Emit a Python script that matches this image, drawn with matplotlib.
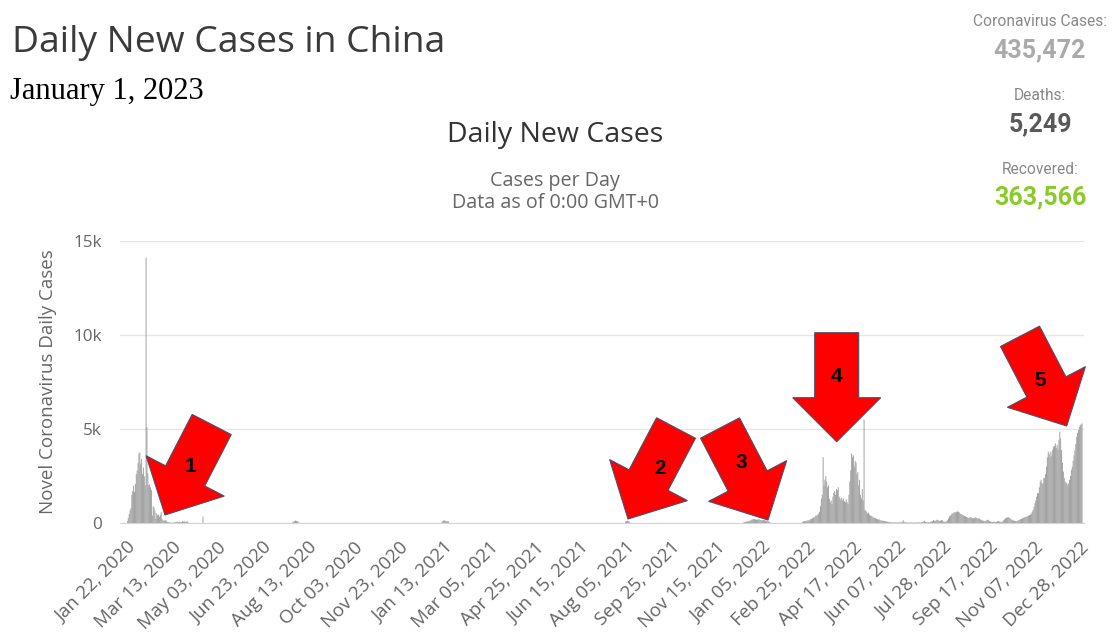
"""Daily new COVID-19 cases in China (worldometer style) with annotation arrows."""

import numpy as np
import pandas as pd
import matplotlib
matplotlib.use("Agg")
import matplotlib.pyplot as plt
from matplotlib.patches import Polygon

W, H = 1113, 637

FIRST_DAY = "2020-01-22"
LAST_DAY = "2022-12-31"

# daily values, grouped by outbreak; days not listed are ~0
WUHAN_START = "2020-01-22"
WUHAN = [0, 95, 277, 486, 669, 802, 1500, 1700, 2000, 1661,
         2089, 2600, 2800, 3200, 3700, 3750, 3160, 3400, 2600, 2950,
         2480, 2020, 14108, 5090, 2640, 2010, 2050, 1890, 1750, 394,
         890, 826, 647, 218, 515, 410, 439, 331, 433, 579,
         206, 130, 120, 143, 146, 102, 46, 45, 20, 31,
         26, 11, 18, 27, 29, 39, 39, 78, 47, 67,
         55, 54, 45, 103, 64, 89, 50, 77, 93, 55]

APR_2020_START = "2020-04-17"
APR_2020 = [350]

JUL_2020_START = "2020-07-27"
JUL_2020 = [60, 70, 100, 130, 110, 90, 70]

JAN_2021_START = "2021-01-11"
JAN_2021 = [90, 120, 140, 130, 110, 100, 90, 80]

AUG_2021_START = "2021-08-05"
AUG_2021 = [80, 100, 120, 100, 90]

DEC_2021_START = "2021-12-16"
DEC_2021 = [40, 50, 60, 80, 70, 90, 110, 130, 150, 180,
            200, 220, 210, 190, 180, 170, 200, 190, 170, 160,
            150, 140, 160, 150, 130, 120, 110, 100, 80, 60]

SPRING_2022_START = "2022-02-20"
SPRING_2022 = [60, 80, 100, 90, 120, 110, 150, 130, 170, 200,
               220, 250, 300, 280, 350, 400, 380, 450, 500, 600,
               900, 1300, 1500, 3500, 2000, 2300, 2500, 2200, 1900, 2000,
               1300, 1100, 1200, 1000, 1400, 1600, 1700, 1500, 1800, 1750,
               1900, 1400, 1300, 1250, 1350, 1200, 1300, 1150, 1100, 1250,
               1100, 1000, 1500, 2200, 2800, 3700, 3500, 3600, 3000, 3300,
               3200, 2600, 2700, 2000, 2300, 1500, 1300, 1800, 1200, 5500,
               700, 650, 600, 500, 550, 450, 400, 380, 350, 300,
               300, 250, 270, 220, 200, 180, 200, 150, 140, 120,
               130, 110, 100, 90, 80, 70, 60, 50, 40, 35]

SUMMER_2022_START = "2022-05-31"
SUMMER_2022 = [30, 25, 30, 20, 25, 30, 25, 20, 30, 25,
               40, 35, 50, 150, 60, 40, 30, 25, 30, 20,
               20, 25, 30, 20, 15, 20, 25, 30, 20, 25,
               30, 25, 20, 30, 40, 60, 80, 110, 60, 40,
               30, 35, 40, 50, 60, 80, 100, 150, 120, 100,
               140, 180, 160, 130, 100, 120, 160, 140, 90, 60,
               60, 80, 100, 150, 250, 350]

AUTUMN_2022_START = "2022-08-05"
AUTUMN_2022 = [400, 450, 500, 520, 550, 580, 560, 600, 620, 590,
               560, 500, 480, 450, 420, 400, 380, 350, 320, 300,
               280, 260, 300, 320, 280, 250, 240, 260, 300, 280,
               250, 230, 260, 220, 180, 150, 120, 130, 110, 100,
               120, 150, 180, 140, 100, 80, 60, 50, 60, 70,
               60, 50, 70, 90, 110, 80, 60, 50, 70, 100,
               150, 200, 250, 280, 300, 320, 280, 250, 220, 180,
               150, 130, 120, 110, 100, 110, 130, 150, 170, 200,
               220, 250, 280, 300, 330]

WINTER_2022_START = "2022-10-29"
WINTER_2022 = [320, 340, 360, 400, 420, 450, 500, 600, 700, 850,
               1050, 1200, 1400, 1600, 1580, 1900, 2200, 2300, 2100, 2100,
               2400, 2380, 2600, 3000, 3500, 3800, 3700, 3530, 3800, 3600,
               3900, 4060, 4100, 4237, 4000, 4150, 3900, 4400, 4860, 4500,
               3880, 3200, 2730, 2400, 2200, 2150, 2110, 2020, 2100, 2300,
               2500, 2820, 3000, 3300, 3600, 3880, 4200, 4590, 4800, 4950,
               5100, 5210, 5250, 5300]

TICK_LABELS = ["Jan 22, 2020", "Mar 13, 2020", "May 03, 2020", "Jun 23, 2020",
               "Aug 13, 2020", "Oct 03, 2020", "Nov 23, 2020", "Jan 13, 2021",
               "Mar 05, 2021", "Apr 25, 2021", "Jun 15, 2021", "Aug 05, 2021",
               "Sep 25, 2021", "Nov 15, 2021", "Jan 05, 2022", "Feb 25, 2022",
               "Apr 17, 2022", "Jun 07, 2022", "Jul 28, 2022", "Sep 17, 2022",
               "Nov 07, 2022", "Dec 28, 2022"]

Y_TICKS = [0, 5000, 10000, 15000]
Y_TICK_LABELS = ["0", "5k", "10k", "15k"]

SEGMENTS = [(WUHAN_START, WUHAN), (APR_2020_START, APR_2020),
            (JUL_2020_START, JUL_2020), (JAN_2021_START, JAN_2021),
            (AUG_2021_START, AUG_2021), (DEC_2021_START, DEC_2021),
            (SPRING_2022_START, SPRING_2022), (SUMMER_2022_START, SUMMER_2022),
            (AUTUMN_2022_START, AUTUMN_2022), (WINTER_2022_START, WINTER_2022)]

# arrows: tail centre, tip (pixels), label, label position
ARROWS = [((211.7, 424.5), (165, 515), "1", (190, 466)),
          ((676, 428), (628, 519), "2", (660, 468)),
          ((720, 428), (768, 520), "3", (741, 463)),
          ((836.7, 332.7), (836.7, 441.7), "4", (836, 377)),
          ((1020, 336.3), (1066.7, 426), "5", (1040, 380))]


def day_index(date_str):
    return (pd.Timestamp(date_str) - pd.Timestamp(FIRST_DAY)).days


def build_series():
    n = day_index(LAST_DAY) + 1
    values = np.zeros(n)
    for start, vals in SEGMENTS:
        i = day_index(start)
        values[i:i + len(vals)] = vals
    return np.arange(n), values


def px(x, y):
    return (x / W, 1 - y / H)


def arrow_polygon(tail, tip, shaft_w=44, head_w=88, head_l=44):
    t = np.array(tail, float)
    p = np.array(tip, float)
    d = (p - t) / np.linalg.norm(p - t)
    nrm = np.array([-d[1], d[0]])
    b = p - d * head_l
    pts = [t + nrm * shaft_w / 2, b + nrm * shaft_w / 2, b + nrm * head_w / 2, p,
           b - nrm * head_w / 2, b - nrm * shaft_w / 2, t - nrm * shaft_w / 2]
    return [px(*q) for q in pts]


def main():
    days, values = build_series()

    fig = plt.figure(figsize=(W / 100, H / 100), dpi=100)
    ax = fig.add_axes([120 / W, (H - 523) / H, 964 / W, 282 / H])

    ax.bar(days, values, width=1.0, color="#9a9a9a", linewidth=0, snap=False)

    ax.set_xlim(-7.3, 1076.2)
    ax.set_ylim(0, 15000)
    ax.set_yticks(Y_TICKS)
    ax.set_yticklabels(Y_TICK_LABELS)
    ax.set_xticks([day_index(pd.to_datetime(t, format="%b %d, %Y")) for t in TICK_LABELS])
    ax.set_xticklabels(TICK_LABELS, rotation=45, ha="right", rotation_mode="anchor")
    ax.tick_params(axis="x", length=0, pad=11, labelsize=13.5, labelcolor="#666666")
    ax.tick_params(axis="y", length=0, pad=13, labelsize=12.3, labelcolor="#666666")
    for lab in ax.get_xticklabels() + ax.get_yticklabels():
        lab.set_family("Open Sans")

    ax.grid(axis="y", color="#e6e6e6", linewidth=1)
    ax.set_axisbelow(True)
    for side in ["top", "right", "left"]:
        ax.spines[side].set_visible(False)
    ax.spines["bottom"].set_color("#ccd6eb")

    ax.set_ylabel("Novel Coronavirus Daily Cases", fontsize=13.5, color="#666666",
                  family="Open Sans", labelpad=12)

    # headings
    fig.text(*px(12, 43), "Daily New Cases in China", fontsize=26.8, color="#3a3a3a",
             family="Open Sans", va="center")
    fig.text(*px(10, 91), "January 1, 2023", fontsize=22, color="black",
             family="Liberation Serif", va="center")
    fig.text(*px(555, 135), "Daily New Cases", fontsize=20.5, color="#333333",
             family="Open Sans", ha="center", va="center")
    fig.text(*px(555, 181), "Cases per Day", fontsize=14.2, color="#666666",
             family="Open Sans", ha="center", va="center")
    fig.text(*px(555, 203), "Data as of 0:00 GMT+0", fontsize=14.2, color="#666666",
             family="Open Sans", ha="center", va="center")

    # summary counters
    fig.text(*px(1040, 21), "Coronavirus Cases:", fontsize=11.2, color="#888888",
             family="Roboto", ha="center", va="center")
    fig.text(*px(1040, 50), "435,472", fontsize=18, color="#aaaaaa", weight="bold",
             family="Roboto", ha="center", va="center")
    fig.text(*px(1040, 96), "Deaths:", fontsize=11.2, color="#888888",
             family="Roboto", ha="center", va="center")
    fig.text(*px(1040, 124), "5,249", fontsize=18, color="#595959", weight="bold",
             family="Roboto", ha="center", va="center")
    fig.text(*px(1040, 169), "Recovered:", fontsize=11.2, color="#888888",
             family="Roboto", ha="center", va="center")
    fig.text(*px(1040, 197), "363,566", fontsize=18, color="#8aca2b", weight="bold",
             family="Roboto", ha="center", va="center")

    # red arrows
    for tail, tip, label, pos in ARROWS:
        fig.patches.append(Polygon(arrow_polygon(tail, tip), closed=True,
                                   facecolor="#ff0000", edgecolor="#4a4f6a",
                                   linewidth=0.8, transform=fig.transFigure,
                                   figure=fig, zorder=5))
        fig.text(*px(*pos), label, fontsize=15, weight="bold", color="black",
                 family="Liberation Sans", ha="center", va="center", zorder=6)

    fig.savefig("out.png", dpi=100)
    plt.close(fig)


if __name__ == "__main__":
    main()
